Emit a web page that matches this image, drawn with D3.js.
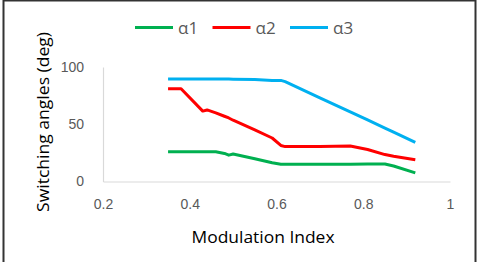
<!DOCTYPE html>
<html>
<head>
<meta charset="utf-8">
<script src="https://cdn.jsdelivr.net/npm/d3@7"></script>
<style>
  html, body { margin: 0; padding: 0; background: #fff; }
  svg { display: block; font-family: "Open Sans", "Liberation Sans", sans-serif; }
</style>
</head>
<body>
<div id="chart"></div>
<script>
// modulation index (x) and the three switching angles (deg)
const modIndex = [0.35, 0.38, 0.43, 0.44, 0.46, 0.48, 0.49, 0.50, 0.55, 0.59, 0.61, 0.62, 0.70, 0.77, 0.81, 0.85, 0.87, 0.92];
const alpha1 = [26, 26, 26, 26, 26, 24.5, 23, 24, 19.8, 16.3, 15, 15, 15, 15, 15.3, 15.3, 13.5, 7.5];
const alpha2 = [81, 81, 61.5, 62.5, 60, 57, 55.5, 53.5, 45, 38, 31.5, 30.5, 30.5, 31, 28, 23.5, 22, 19];
const alpha3 = [89.5, 89.5, 89.5, 89.5, 89.5, 89.5, 89.5, 89.4, 89, 88.3, 88.3, 87.2, 73.1, 60.8, 53.8, 46.7, 43.2, 34.2];
const seriesNames = ["α1", "α2", "α3"];
const seriesColors = ["#00b050", "#ff0000", "#00b0f0"];
const xTicks = [0.2, 0.4, 0.6, 0.8, 1];
const yTicks = [0, 50, 100];

const W = 480, H = 262;
const svg = d3.select("#chart").append("svg")
    .attr("width", W)
    .attr("height", H);

// outer frame
svg.append("rect")
    .attr("x", 3.5).attr("y", 0.5)
    .attr("width", 472).attr("height", 263)
    .attr("fill", "none")
    .attr("stroke", "#333")
    .attr("stroke-width", 2);

const x = d3.scaleLinear().domain([0.2, 1]).range([103, 450]);
const y = d3.scaleLinear().domain([0, 100]).range([181.5, 67]);

// axes
const xAxis = svg.append("g")
    .attr("transform", "translate(0," + y(0) + ")")
    .call(d3.axisBottom(x).tickValues(xTicks).tickSize(0).tickPadding(18).tickFormat(d => d3.format("")(d)));
xAxis.select(".domain").attr("stroke", "#d9d9d9").attr("stroke-width", 1.2);
xAxis.selectAll("text").attr("fill", "#595959").style("font-size", "14px");

const yAxis = svg.append("g")
    .attr("transform", "translate(" + x(0.2) + ",0)")
    .call(d3.axisLeft(y).tickValues(yTicks).tickSize(0).tickPadding(19));
yAxis.select(".domain").attr("stroke", "#d9d9d9").attr("stroke-width", 1.2);
yAxis.selectAll("text").attr("fill", "#595959").style("font-size", "14px");

// axis titles
svg.append("text")
    .attr("x", 263).attr("y", 243)
    .attr("text-anchor", "middle")
    .attr("textLength", 143).attr("lengthAdjust", "spacingAndGlyphs")
    .style("font-size", "16px")
    .attr("fill", "#000")
    .text("Modulation Index");

svg.append("text")
    .attr("transform", "translate(49,122) rotate(-90)")
    .attr("text-anchor", "middle")
    .attr("textLength", 180).attr("lengthAdjust", "spacingAndGlyphs")
    .style("font-size", "16px")
    .attr("fill", "#000")
    .text("Switching angles (deg)");

// lines
const series = [alpha1, alpha2, alpha3];
const line = d3.line()
    .x((d, i) => x(modIndex[i]))
    .y(d => y(d));

svg.selectAll(".series")
    .data(series)
    .enter().append("path")
    .attr("class", "series")
    .attr("d", d => line(d))
    .attr("fill", "none")
    .attr("stroke", (d, i) => seriesColors[i])
    .attr("stroke-width", 3)
    .attr("stroke-linejoin", "round");

// legend
const legend = svg.selectAll(".legend")
    .data(seriesNames)
    .enter().append("g")
    .attr("class", "legend")
    .attr("transform", (d, i) => "translate(" + (135 + i * 77.5) + ",27.5)");
legend.append("line")
    .attr("x1", 0).attr("x2", 38)
    .attr("stroke", (d, i) => seriesColors[i])
    .attr("stroke-width", 3);
legend.append("text")
    .attr("x", 43).attr("y", 6)
    .style("font-size", "17px")
    .attr("fill", "#595959")
    .text(d => d);
</script>
</body>
</html>
